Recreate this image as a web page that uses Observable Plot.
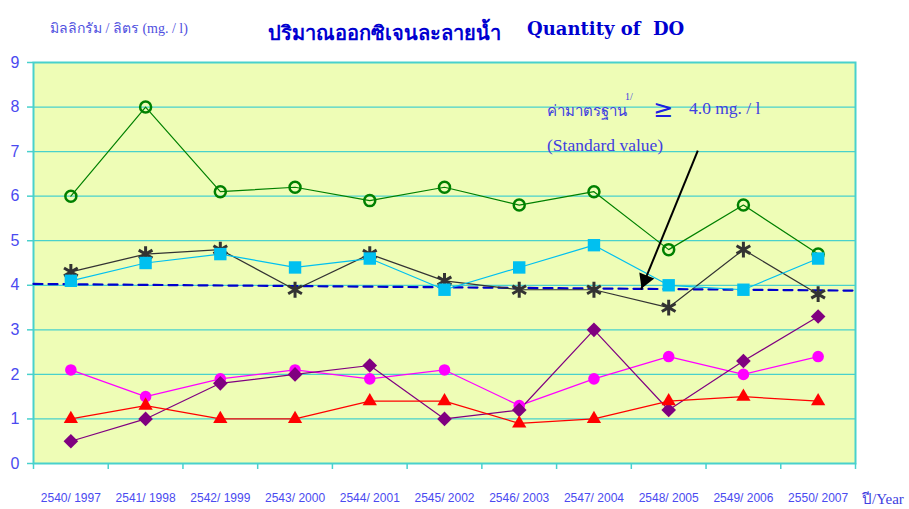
<!DOCTYPE html>
<html><head><meta charset="utf-8">
<script src="https://cdn.jsdelivr.net/npm/d3@7"></script>
<script src="https://cdn.jsdelivr.net/npm/@observablehq/plot@0.6"></script>
<style>
body{margin:0;background:#fff}
#wrap{position:relative;width:909px;height:509px;overflow:hidden}
.t{position:absolute;white-space:nowrap;line-height:1}
#ylab{left:50px;top:17px;font:14px "Liberation Serif","DejaVu Serif",serif;color:#5050e0}
#title1{left:268px;top:17px;font:bold 20px "Noto Sans","DejaVu Sans",sans-serif;color:#0000d0}
#title2{left:527px;top:18px;font:bold 18px "DejaVu Serif","Liberation Serif",serif;color:#0000d0}
#std1{left:547px;top:99px;font:15px "Liberation Serif","DejaVu Serif",serif;color:#4040e0}
#sup{left:625px;top:91px;font:10px "Liberation Serif",serif;color:#4040e0}
#ge{left:653px;top:95px;font:24px "DejaVu Sans",sans-serif;color:#2020e0}
#std2{left:689px;top:98px;font:17.5px "Liberation Serif","DejaVu Serif",serif;color:#4040e0}
#std3{left:547px;top:135px;font:17.5px "Liberation Serif","DejaVu Serif",serif;color:#4040e0}
#yr{left:862px;top:487px;font:15px "Liberation Serif","DejaVu Serif",serif;color:#4040e0}
</style></head>
<body><div id="wrap">
<div id="chart"></div>
<div class="t" id="ylab">มิลลิกรัม / ลิตร (mg. / l)</div>
<div class="t" id="title1">ปริมาณออกซิเจนละลายน้ำ</div>
<div class="t" id="title2">Quantity of&nbsp;&nbsp;DO</div>
<div class="t" id="std1">ค่ามาตรฐาน</div>
<div class="t" id="sup">1/</div>
<div class="t" id="ge">≥</div>
<div class="t" id="std2">4.0 mg. / l</div>
<div class="t" id="std3">(Standard value)</div>
<div class="t" id="yr">ปี/Year</div>
</div>
<script>
const years = ["2540/ 1997","2541/ 1998","2542/ 1999","2543/ 2000","2544/ 2001","2545/ 2002","2546/ 2003","2547/ 2004","2548/ 2005","2549/ 2006","2550/ 2007"];
const greenCircle = [6.0, 8.0, 6.1, 6.2, 5.9, 6.2, 5.8, 6.1, 4.8, 5.8, 4.7];
const blackStar   = [4.3, 4.7, 4.8, 3.9, 4.7, 4.1, 3.9, 3.9, 3.5, 4.8, 3.8];
const cyanSquare  = [4.1, 4.5, 4.7, 4.4, 4.6, 3.9, 4.4, 4.9, 4.0, 3.9, 4.6];
const magentaDot  = [2.1, 1.5, 1.9, 2.1, 1.9, 2.1, 1.3, 1.9, 2.4, 2.0, 2.4];
const purpleDiam  = [0.5, 1.0, 1.8, 2.0, 2.2, 1.0, 1.2, 3.0, 1.2, 2.3, 3.3];
const redTri      = [1.0, 1.3, 1.0, 1.0, 1.4, 1.4, 0.9, 1.0, 1.4, 1.5, 1.4];
const yTicks = [0,1,2,3,4,5,6,7,8,9];
// standard line (dashed) values at the left and right edge of the plot
const stdX = [0, 11];
const stdY = [4.03, 3.88];
// arrow annotation in data units
const arrowStart = {x: 8.89, y: 7.02};
const arrowEnd = {x: 8.13, y: 3.9};

const series = [
  {name:"green", values: greenCircle, stroke:"#008000", symbol:"circle", fill:"none", r:5.5, sw:2.5},
  {name:"black", values: blackStar, stroke:"#333333", symbol:"asterisk", fill:"none", r:7.5, sw:3},
  {name:"cyan", values: cyanSquare, stroke:"#00c0f0", symbol:"square", fill:"#00c0f0", r:7, sw:0},
  {name:"magenta", values: magentaDot, stroke:"#ff00ff", symbol:"circle", fill:"#ff00ff", r:5.8, sw:0},
  {name:"purple", values: purpleDiam, stroke:"#800080", symbol:"diamond2", fill:"#800080", r:6.6, sw:0},
  {name:"red", values: redTri, stroke:"#ff0000", symbol:"triangle", fill:"#ff0000", r:5.3, sw:0}
];
const rows = s => s.values.map((v,i)=>({x:i+0.5, y:v}));
const stdRows = stdX.map((x,i)=>({x, y:stdY[i]}));

const lineMarks = series.map(s => Plot.line(rows(s), {x:"x", y:"y", stroke:s.stroke, strokeWidth:1.2}));
const dotMarks = series.map(s => Plot.dot(rows(s), {x:"x", y:"y", symbol:()=>s.symbol, r:s.r,
   fill:s.fill, stroke: s.sw ? s.stroke : "none", strokeWidth:s.sw}));

const chart = Plot.plot({
  width: 909, height: 509,
  marginLeft: 33, marginRight: 54, marginTop: 62, marginBottom: 46,
  style: {fontFamily: "Liberation Sans, Arial, sans-serif", background: "transparent", overflow:"visible"},
  symbol: {type:"identity"},
  x: {type:"linear", domain:[0,11]},
  y: {domain:[0,9]},
  marks: [
    Plot.frame({fill:"#eefdb6", stroke:"none"}),
    Plot.ruleY(yTicks.slice(1,-1), {stroke:"#48d1cc", strokeWidth:1.2}),
    Plot.frame({stroke:"#48d1cc", strokeWidth:2}),
    Plot.axisY({ticks: yTicks, tickSize:6, tickPadding:8, stroke:"#48d1cc", strokeWidth:1.5, fill:"#4a4af0", fontSize:16, label:null}),
    Plot.axisX({ticks: d3.range(0,12), tickSize:6, stroke:"#48d1cc", strokeWidth:1.5, tickFormat:()=>"", label:null}),
    Plot.axisX({ticks: years.map((d,i)=>i+0.5), tickSize:0, tickPadding:30, tickFormat:d=>years[Math.floor(d)], fill:"#4a4af0", fontSize:12, label:null}),
    Plot.line(stdRows, {x:"x", y:"y", stroke:"#0000cc", strokeWidth:2.2, strokeDasharray:"9,6"}),
    ...lineMarks,
    ...dotMarks,
    Plot.link([arrowStart], {x1:"x", y1:"y", x2:()=>arrowEnd.x, y2:()=>arrowEnd.y, stroke:"#000", strokeWidth:2}),
    Plot.dot([arrowEnd], {x:"x", y:"y", symbol:"triangle", r:6, fill:"#000", rotate:202, dx:4, dy:-10})
  ]
});
document.getElementById("chart").appendChild(chart);
</script>
</body></html>
